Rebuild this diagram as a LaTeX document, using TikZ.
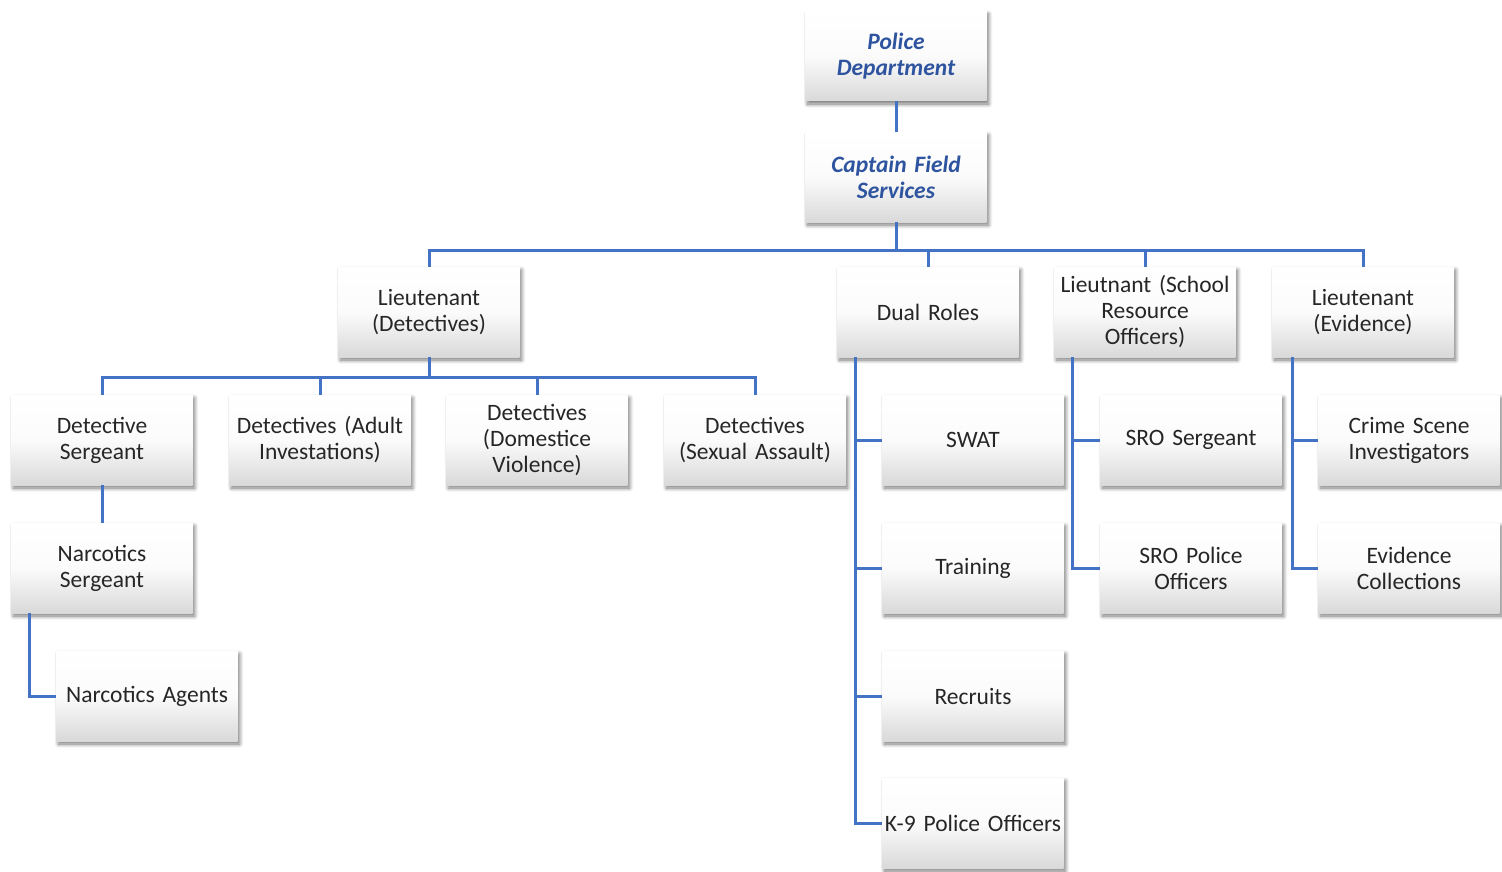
\documentclass[tikz,border=0pt]{standalone}
\usepackage{fontspec}
\setmainfont{Carlito}
\usetikzlibrary{shadows.blur}
\definecolor{lineblue}{HTML}{4472C4}
\definecolor{titleblue}{HTML}{2E54A0}
\definecolor{txt}{HTML}{262626}
\definecolor{boxbot}{HTML}{D9D9D9}
\tikzset{
  orgbox/.style={minimum width=181pt, minimum height=90pt, inner sep=0pt,
    text width=178pt, align=center, top color=white, bottom color=boxbot,
    middle color=white!90!boxbot,
    blur shadow={shadow xshift=2pt, shadow yshift=-3pt, shadow blur steps=8, shadow blur radius=4pt, shadow opacity=55},
    font=\fontsize{23.5}{26}\selectfont, text=txt},
  topbox/.style={orgbox, font=\fontsize{23.5}{26}\selectfont\bfseries\itshape, text=titleblue},
  conn/.style={draw=lineblue, line width=3pt}
}
\begin{document}
\begin{tikzpicture}[x=1pt, y=-1pt]
\useasboundingbox (0,0) rectangle (1502,872);
% nodes
\node[topbox] (pd) at (896,56) {Police\\Department};
\node[topbox] (cap) at (896,177) {Captain Field\\Services};
\node[orgbox] (ltd) at (429,312) {Lieutenant\\(Detectives)};
\node[orgbox] (dual) at (928,312) {Dual Roles};
\node[orgbox] (lts) at (1145,312) {Lieutnant (School\\Resource\\Officers)};
\node[orgbox] (lte) at (1363,312) {Lieutenant\\(Evidence)};
\node[orgbox] (ds) at (102,440) {Detective\\Sergeant};
\node[orgbox] (da) at (320,440) {Detectives (Adult\\Investations)};
\node[orgbox] (dd) at (537,440) {Detectives\\(Domestice\\Violence)};
\node[orgbox] (dsa) at (755,440) {Detectives\\(Sexual Assault)};
\node[orgbox] (ns) at (102,568) {Narcotics\\Sergeant};
\node[orgbox] (na) at (147,696) {Narcotics Agents};
\node[orgbox] (swat) at (973,440) {SWAT};
\node[orgbox] (tr) at (973,568) {Training};
\node[orgbox] (rec) at (973,696) {Recruits};
\node[orgbox] (k9) at (973,823) {K-9 Police Officers};
\node[orgbox] (srs) at (1191,440) {SRO Sergeant};
\node[orgbox] (srp) at (1191,568) {SRO Police\\Officers};
\node[orgbox] (csi) at (1409,440) {Crime Scene\\Investigators};
\node[orgbox] (ec) at (1409,568) {Evidence\\Collections};
% connectors
\draw[conn] (pd.south) -- (cap.north);
\foreach \c in {ltd,dual,lts,lte} \draw[conn] (cap.south) -- ++(0,28) -| (\c.north);
\foreach \c in {ds,da,dd,dsa} \draw[conn] (ltd.south) -- ++(0,20) -| (\c.north);
\draw[conn] (ds.south) -- (ns.north);
\draw[conn] ([xshift=18pt]ns.south west) |- (na.west);
\foreach \c in {swat,tr,rec,k9} \draw[conn] ([xshift=18pt]dual.south west) |- (\c.west);
\foreach \c in {srs,srp} \draw[conn] ([xshift=18pt]lts.south west) |- (\c.west);
\foreach \c in {csi,ec} \draw[conn] ([xshift=20pt]lte.south west) |- (\c.west);
\end{tikzpicture}
\end{document}
